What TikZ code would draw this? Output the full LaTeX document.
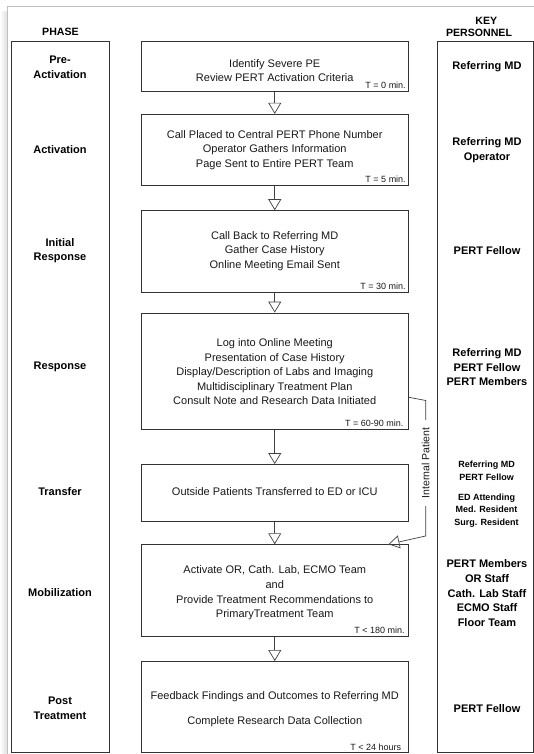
\documentclass[tikz,border=0pt]{standalone}
\usepackage{fontspec}
\setmainfont{Liberation Sans}
\usetikzlibrary{arrows.meta,calc}

\begin{document}
\begin{tikzpicture}[x=1pt,y=-1pt,
  stepbox/.style={draw=black!80, line width=0.9pt, minimum width=266.5pt, inner sep=0pt, fill=white},
  colbox/.style={draw=black!80, line width=0.9pt, inner sep=0pt},
  body/.style={align=center, font=\fontsize{11}{14.6}\selectfont, text=black!90, inner sep=0pt},
  phaselbl/.style={align=center, font=\fontsize{11}{14.6}\selectfont\bfseries, inner sep=0pt},
  headlbl/.style={align=center, font=\fontsize{10.6}{13}\selectfont\bfseries, inner sep=0pt},
  keylbl/.style={align=center, font=\fontsize{11}{14.6}\selectfont\bfseries, inner sep=0pt},
  keysmall/.style={align=center, font=\fontsize{9}{12.7}\selectfont\bfseries, inner sep=0pt},
  timelbl/.style={anchor=east, font=\fontsize{9}{10}\selectfont, text=black!90, inner sep=0pt},
  flow/.style={draw=black!75, line width=0.7pt, -{Triangle[open, length=11pt, width=13pt, line width=0.7pt]}},
  pagerule/.style={draw=black!25, line width=0.8pt},
]
\useasboundingbox (0,0) rectangle (534,754);

% page edge and its soft shadow
\shade[left color=white, right color=black!12] (0,12) rectangle (6.6,754);
\draw[pagerule] (7,754) -- (7,6.7) -- (534,6.7);

% column headers
\node[headlbl] (phasehd) at (60.5,32.3) {PHASE};
\node[headlbl] (keyhd) at (486.3,20.7) {KEY};
\node[headlbl] (perhd) at (479,33.3) {PERSONNEL};

% side columns
\node[colbox, minimum width=98pt, minimum height=711pt] (phasecol) at (60,396.5) {};
\node[colbox, minimum width=96pt, minimum height=711pt] (keycol) at (485,396.5) {};

% process steps
\node[stepbox, minimum height=50.3pt] (b1) at (274.75,66.2) {};
\node[stepbox, minimum height=70.7pt] (b2) at (274.75,149.6) {};
\node[stepbox, minimum height=81.3pt] (b3) at (274.75,251.3) {};
\node[stepbox, minimum height=116.4pt] (b4) at (274.75,371.2) {};
\node[stepbox, minimum height=57pt] (b5) at (274.75,493) {};
\node[stepbox, minimum height=91.6pt] (b6) at (274.75,590.5) {};
\node[stepbox, minimum height=91.3pt] (b7) at (274.75,707.1) {};

\node[body] (b1txt) at (274.75,70.6) {Identify Severe PE\\Review PERT Activation Criteria};
\node[body] (b2txt) at (274.75,150) {Call Placed to Central PERT Phone Number\\Operator Gathers Information\\Page Sent to Entire PERT Team};
\node[body] (b3txt) at (274.75,251) {Call Back to Referring MD\\Gather Case History\\Online Meeting Email Sent};
\node[body] (b4txt) at (274.75,371.8) {Log into Online Meeting\\Presentation of Case History\\Display/Description of Labs and Imaging\\Multidisciplinary Treatment Plan\\Consult Note and Research Data Initiated};
\node[body] (b5txt) at (274.75,492) {Outside Patients Transferred to ED or ICU};
\node[body] (b6txt) at (274.75,593) {Activate OR, Cath. Lab, ECMO Team\\and\\Provide Treatment Recommendations to\\PrimaryTreatment Team};
\node[body] (b7txt) at (274.75,709.3) {Feedback Findings and Outcomes to Referring MD\\[10.8pt]Complete Research Data Collection};

% elapsed time
\node[timelbl] (t1) at ($(b1.south east)+(-2.5,-6.6)$) {T = 0 min.};
\node[timelbl] (t2) at ($(b2.south east)+(-2.5,-6.3)$) {T = 5 min.};
\node[timelbl] (t3) at ($(b3.south east)+(-2.5,-6.4)$) {T = 30 min.};
\node[timelbl] (t4) at ($(b4.south east)+(-4.8,-6.6)$) {T = 60-90 min.};
\node[timelbl] (t6) at ($(b6.south east)+(-3.5,-6.2)$) {T < 180 min.};
\node[timelbl] (t7) at ($(b7.south east)+(-7,-6.2)$) {T < 24 hours};

% flow between steps
\draw[flow] (b1) -- (b2);
\draw[flow] (b2) -- (b3);
\draw[flow] (b3) -- (b4);
\draw[flow] (b4) -- (b5);
\draw[flow] (b5) -- (b6);
\draw[flow] (b6) -- (b7);

% internal patients bypass the transfer step
\coordinate (ipa) at ($(b4.east)+(0,26)$);
\coordinate (ipb) at (425.7,400.5);
\coordinate (ipc) at (425.7,536);
\coordinate (ipd) at ($(b6.north east)+(-20,0)$);
\draw[flow] (ipa) -- (ipb) -- (ipc) -- (ipd);
\node[rotate=90, fill=white, inner xsep=8pt, inner ysep=1.5pt, font=\fontsize{10.5}{12}\selectfont, text=black!90] (iplbl) at (425.7,463) {Internal Patient};

% phases
\node[phaselbl] (ph1) at (60,67) {Pre-\\Activation};
\node[phaselbl] (ph2) at (60,150) {Activation};
\node[phaselbl] (ph3) at (60,250.5) {Initial\\Response};
\node[phaselbl] (ph4) at (60,367) {Response};
\node[phaselbl] (ph5) at (60,492) {Transfer};
\node[phaselbl] (ph6) at (60,593) {Mobilization};
\node[phaselbl] (ph7) at (60,708) {Post\\Treatment};

% key personnel
\node[keylbl] (k1) at (487,67) {Referring MD};
\node[keylbl] (k2) at (487,150) {Referring MD\\Operator};
\node[keylbl] (k3) at (487,251) {PERT Fellow};
\node[keylbl] (k4) at (487,367.3) {Referring MD\\PERT Fellow\\PERT Members};
\node[keysmall] (k5a) at (486.5,470.7) {Referring MD\\PERT Fellow};
\node[keysmall] (k5b) at (486.5,510.5) {ED Attending\\Med. Resident\\Surg. Resident};
\node[keylbl] (k6) at (487,593.2) {PERT Members\\OR Staff\\Cath. Lab Staff\\ECMO Staff\\Floor Team};
\node[keylbl] (k7) at (487,708.5) {PERT Fellow};
\end{tikzpicture}
\end{document}
